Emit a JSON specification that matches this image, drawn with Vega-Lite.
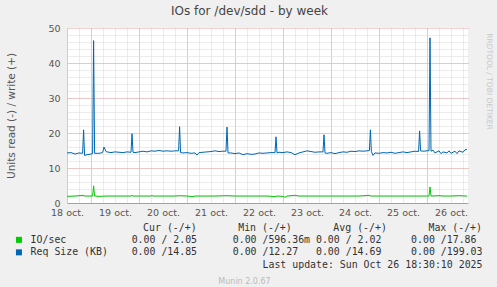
{
  "$schema": "https://vega.github.io/schema/vega-lite/v6.json",
  "width": 401,
  "height": 175,
  "autosize": {"type": "none"},
  "padding": {"left": 67, "top": 28, "right": 29, "bottom": 84},
  "background": "#f0f0f0",
  "config": {"view": {"fill": "white", "stroke": null}, "font": "DejaVu Sans"},
  "title": {"text": "IOs for /dev/sdd - by week", "font": "DejaVu Sans", "fontSize": 12, "fontWeight": "normal", "color": "#444444", "anchor": "middle", "frame": "group", "dx": -18, "offset": 5},
  "data": {"values": [
    {"hour": 12, "value": 14.3, "series": "Req Size (KB)"},
    {"hour": 14, "value": 14.4, "series": "Req Size (KB)"},
    {"hour": 16, "value": 14.0, "series": "Req Size (KB)"},
    {"hour": 18, "value": 14.3, "series": "Req Size (KB)"},
    {"hour": 19.8, "value": 14.2, "series": "Req Size (KB)"},
    {"hour": 20.3, "value": 20.9, "series": "Req Size (KB)"},
    {"hour": 20.8, "value": 13.6, "series": "Req Size (KB)"},
    {"hour": 22, "value": 13.8, "series": "Req Size (KB)"},
    {"hour": 24, "value": 14.0, "series": "Req Size (KB)"},
    {"hour": 24.8, "value": 14.1, "series": "Req Size (KB)"},
    {"hour": 25.3, "value": 46.4, "series": "Req Size (KB)"},
    {"hour": 25.8, "value": 14.2, "series": "Req Size (KB)"},
    {"hour": 28, "value": 14.2, "series": "Req Size (KB)"},
    {"hour": 29.8, "value": 14.4, "series": "Req Size (KB)"},
    {"hour": 30.5, "value": 16.0, "series": "Req Size (KB)"},
    {"hour": 31.5, "value": 14.7, "series": "Req Size (KB)"},
    {"hour": 32, "value": 14.6, "series": "Req Size (KB)"},
    {"hour": 34, "value": 14.4, "series": "Req Size (KB)"},
    {"hour": 36, "value": 14.6, "series": "Req Size (KB)"},
    {"hour": 38, "value": 14.5, "series": "Req Size (KB)"},
    {"hour": 40, "value": 14.4, "series": "Req Size (KB)"},
    {"hour": 42, "value": 14.6, "series": "Req Size (KB)"},
    {"hour": 44, "value": 14.5, "series": "Req Size (KB)"},
    {"hour": 44.5, "value": 19.8, "series": "Req Size (KB)"},
    {"hour": 45, "value": 14.5, "series": "Req Size (KB)"},
    {"hour": 46, "value": 14.4, "series": "Req Size (KB)"},
    {"hour": 48, "value": 14.6, "series": "Req Size (KB)"},
    {"hour": 50, "value": 14.8, "series": "Req Size (KB)"},
    {"hour": 52, "value": 14.6, "series": "Req Size (KB)"},
    {"hour": 54, "value": 14.9, "series": "Req Size (KB)"},
    {"hour": 56, "value": 14.8, "series": "Req Size (KB)"},
    {"hour": 58, "value": 15.0, "series": "Req Size (KB)"},
    {"hour": 60, "value": 14.8, "series": "Req Size (KB)"},
    {"hour": 62, "value": 14.9, "series": "Req Size (KB)"},
    {"hour": 64, "value": 14.8, "series": "Req Size (KB)"},
    {"hour": 66, "value": 14.9, "series": "Req Size (KB)"},
    {"hour": 67.8, "value": 14.9, "series": "Req Size (KB)"},
    {"hour": 68.3, "value": 21.8, "series": "Req Size (KB)"},
    {"hour": 68.8, "value": 14.4, "series": "Req Size (KB)"},
    {"hour": 70, "value": 14.3, "series": "Req Size (KB)"},
    {"hour": 72, "value": 14.4, "series": "Req Size (KB)"},
    {"hour": 74, "value": 14.2, "series": "Req Size (KB)"},
    {"hour": 76, "value": 14.3, "series": "Req Size (KB)"},
    {"hour": 77, "value": 13.7, "series": "Req Size (KB)"},
    {"hour": 78, "value": 14.4, "series": "Req Size (KB)"},
    {"hour": 80, "value": 14.5, "series": "Req Size (KB)"},
    {"hour": 82, "value": 14.6, "series": "Req Size (KB)"},
    {"hour": 84, "value": 14.7, "series": "Req Size (KB)"},
    {"hour": 86, "value": 14.9, "series": "Req Size (KB)"},
    {"hour": 88, "value": 14.7, "series": "Req Size (KB)"},
    {"hour": 90, "value": 14.8, "series": "Req Size (KB)"},
    {"hour": 91.5, "value": 14.8, "series": "Req Size (KB)"},
    {"hour": 92, "value": 21.7, "series": "Req Size (KB)"},
    {"hour": 92.5, "value": 14.3, "series": "Req Size (KB)"},
    {"hour": 94, "value": 14.3, "series": "Req Size (KB)"},
    {"hour": 96, "value": 14.1, "series": "Req Size (KB)"},
    {"hour": 98, "value": 14.3, "series": "Req Size (KB)"},
    {"hour": 100, "value": 13.8, "series": "Req Size (KB)"},
    {"hour": 102, "value": 14.1, "series": "Req Size (KB)"},
    {"hour": 104, "value": 13.9, "series": "Req Size (KB)"},
    {"hour": 106, "value": 14.0, "series": "Req Size (KB)"},
    {"hour": 108, "value": 14.3, "series": "Req Size (KB)"},
    {"hour": 110, "value": 14.2, "series": "Req Size (KB)"},
    {"hour": 112, "value": 14.3, "series": "Req Size (KB)"},
    {"hour": 114, "value": 14.4, "series": "Req Size (KB)"},
    {"hour": 116, "value": 14.4, "series": "Req Size (KB)"},
    {"hour": 116.5, "value": 18.9, "series": "Req Size (KB)"},
    {"hour": 117, "value": 14.3, "series": "Req Size (KB)"},
    {"hour": 118, "value": 14.5, "series": "Req Size (KB)"},
    {"hour": 120, "value": 14.4, "series": "Req Size (KB)"},
    {"hour": 122, "value": 14.6, "series": "Req Size (KB)"},
    {"hour": 124, "value": 14.4, "series": "Req Size (KB)"},
    {"hour": 126, "value": 13.8, "series": "Req Size (KB)"},
    {"hour": 128, "value": 14.3, "series": "Req Size (KB)"},
    {"hour": 130, "value": 14.6, "series": "Req Size (KB)"},
    {"hour": 132, "value": 14.9, "series": "Req Size (KB)"},
    {"hour": 134, "value": 14.7, "series": "Req Size (KB)"},
    {"hour": 136, "value": 14.5, "series": "Req Size (KB)"},
    {"hour": 138, "value": 14.6, "series": "Req Size (KB)"},
    {"hour": 140, "value": 14.6, "series": "Req Size (KB)"},
    {"hour": 140.5, "value": 19.5, "series": "Req Size (KB)"},
    {"hour": 141, "value": 14.3, "series": "Req Size (KB)"},
    {"hour": 142, "value": 14.2, "series": "Req Size (KB)"},
    {"hour": 144, "value": 14.4, "series": "Req Size (KB)"},
    {"hour": 146, "value": 14.1, "series": "Req Size (KB)"},
    {"hour": 148, "value": 14.4, "series": "Req Size (KB)"},
    {"hour": 150, "value": 14.6, "series": "Req Size (KB)"},
    {"hour": 152, "value": 14.5, "series": "Req Size (KB)"},
    {"hour": 154, "value": 14.8, "series": "Req Size (KB)"},
    {"hour": 156, "value": 14.7, "series": "Req Size (KB)"},
    {"hour": 158, "value": 14.9, "series": "Req Size (KB)"},
    {"hour": 160, "value": 14.8, "series": "Req Size (KB)"},
    {"hour": 162, "value": 14.9, "series": "Req Size (KB)"},
    {"hour": 163.2, "value": 15.0, "series": "Req Size (KB)"},
    {"hour": 163.7, "value": 20.9, "series": "Req Size (KB)"},
    {"hour": 164.2, "value": 14.7, "series": "Req Size (KB)"},
    {"hour": 165, "value": 13.6, "series": "Req Size (KB)"},
    {"hour": 166, "value": 14.3, "series": "Req Size (KB)"},
    {"hour": 168, "value": 14.2, "series": "Req Size (KB)"},
    {"hour": 170, "value": 14.4, "series": "Req Size (KB)"},
    {"hour": 172, "value": 14.3, "series": "Req Size (KB)"},
    {"hour": 174, "value": 14.5, "series": "Req Size (KB)"},
    {"hour": 176, "value": 14.2, "series": "Req Size (KB)"},
    {"hour": 178, "value": 14.4, "series": "Req Size (KB)"},
    {"hour": 180, "value": 14.6, "series": "Req Size (KB)"},
    {"hour": 182, "value": 14.4, "series": "Req Size (KB)"},
    {"hour": 184, "value": 14.6, "series": "Req Size (KB)"},
    {"hour": 186, "value": 14.8, "series": "Req Size (KB)"},
    {"hour": 187.8, "value": 14.7, "series": "Req Size (KB)"},
    {"hour": 188.3, "value": 20.6, "series": "Req Size (KB)"},
    {"hour": 188.8, "value": 14.9, "series": "Req Size (KB)"},
    {"hour": 190, "value": 14.8, "series": "Req Size (KB)"},
    {"hour": 192, "value": 14.9, "series": "Req Size (KB)"},
    {"hour": 193, "value": 15.0, "series": "Req Size (KB)"},
    {"hour": 193.5, "value": 47.2, "series": "Req Size (KB)"},
    {"hour": 194, "value": 14.8, "series": "Req Size (KB)"},
    {"hour": 195, "value": 15.1, "series": "Req Size (KB)"},
    {"hour": 196, "value": 14.3, "series": "Req Size (KB)"},
    {"hour": 198, "value": 14.9, "series": "Req Size (KB)"},
    {"hour": 199, "value": 14.1, "series": "Req Size (KB)"},
    {"hour": 200, "value": 14.6, "series": "Req Size (KB)"},
    {"hour": 202, "value": 14.3, "series": "Req Size (KB)"},
    {"hour": 203, "value": 14.9, "series": "Req Size (KB)"},
    {"hour": 204, "value": 14.2, "series": "Req Size (KB)"},
    {"hour": 206, "value": 14.8, "series": "Req Size (KB)"},
    {"hour": 207, "value": 14.1, "series": "Req Size (KB)"},
    {"hour": 208, "value": 14.9, "series": "Req Size (KB)"},
    {"hour": 210, "value": 14.5, "series": "Req Size (KB)"},
    {"hour": 211, "value": 15.2, "series": "Req Size (KB)"},
    {"hour": 212, "value": 15.3, "series": "Req Size (KB)"},
    {"hour": 12, "value": 1.9, "series": "IO/sec"},
    {"hour": 16, "value": 2.0, "series": "IO/sec"},
    {"hour": 20, "value": 2.2, "series": "IO/sec"},
    {"hour": 21, "value": 2.0, "series": "IO/sec"},
    {"hour": 24.8, "value": 2.0, "series": "IO/sec"},
    {"hour": 25.3, "value": 4.9, "series": "IO/sec"},
    {"hour": 25.8, "value": 2.0, "series": "IO/sec"},
    {"hour": 28, "value": 1.9, "series": "IO/sec"},
    {"hour": 32, "value": 2.0, "series": "IO/sec"},
    {"hour": 36, "value": 2.0, "series": "IO/sec"},
    {"hour": 40, "value": 2.0, "series": "IO/sec"},
    {"hour": 44, "value": 2.0, "series": "IO/sec"},
    {"hour": 44.5, "value": 2.2, "series": "IO/sec"},
    {"hour": 45, "value": 2.0, "series": "IO/sec"},
    {"hour": 50, "value": 2.0, "series": "IO/sec"},
    {"hour": 54, "value": 2.0, "series": "IO/sec"},
    {"hour": 54.5, "value": 2.2, "series": "IO/sec"},
    {"hour": 55, "value": 2.0, "series": "IO/sec"},
    {"hour": 60, "value": 2.0, "series": "IO/sec"},
    {"hour": 66, "value": 2.0, "series": "IO/sec"},
    {"hour": 68.3, "value": 2.1, "series": "IO/sec"},
    {"hour": 72, "value": 2.0, "series": "IO/sec"},
    {"hour": 75, "value": 1.8, "series": "IO/sec"},
    {"hour": 76, "value": 2.0, "series": "IO/sec"},
    {"hour": 80, "value": 2.0, "series": "IO/sec"},
    {"hour": 86, "value": 2.0, "series": "IO/sec"},
    {"hour": 92, "value": 2.1, "series": "IO/sec"},
    {"hour": 96, "value": 2.0, "series": "IO/sec"},
    {"hour": 100, "value": 2.0, "series": "IO/sec"},
    {"hour": 106, "value": 2.0, "series": "IO/sec"},
    {"hour": 112, "value": 2.0, "series": "IO/sec"},
    {"hour": 116, "value": 1.8, "series": "IO/sec"},
    {"hour": 117, "value": 2.0, "series": "IO/sec"},
    {"hour": 120, "value": 1.9, "series": "IO/sec"},
    {"hour": 121, "value": 1.6, "series": "IO/sec"},
    {"hour": 122, "value": 2.0, "series": "IO/sec"},
    {"hour": 126, "value": 2.2, "series": "IO/sec"},
    {"hour": 128, "value": 2.0, "series": "IO/sec"},
    {"hour": 134, "value": 2.0, "series": "IO/sec"},
    {"hour": 140, "value": 2.0, "series": "IO/sec"},
    {"hour": 146, "value": 2.0, "series": "IO/sec"},
    {"hour": 152, "value": 2.0, "series": "IO/sec"},
    {"hour": 158, "value": 2.0, "series": "IO/sec"},
    {"hour": 163, "value": 2.2, "series": "IO/sec"},
    {"hour": 164, "value": 2.0, "series": "IO/sec"},
    {"hour": 170, "value": 2.0, "series": "IO/sec"},
    {"hour": 176, "value": 2.0, "series": "IO/sec"},
    {"hour": 182, "value": 2.0, "series": "IO/sec"},
    {"hour": 188, "value": 2.0, "series": "IO/sec"},
    {"hour": 193, "value": 2.0, "series": "IO/sec"},
    {"hour": 193.5, "value": 4.6, "series": "IO/sec"},
    {"hour": 194, "value": 2.0, "series": "IO/sec"},
    {"hour": 198, "value": 2.1, "series": "IO/sec"},
    {"hour": 200, "value": 2.0, "series": "IO/sec"},
    {"hour": 204, "value": 2.0, "series": "IO/sec"},
    {"hour": 208, "value": 2.1, "series": "IO/sec"},
    {"hour": 212, "value": 2.0, "series": "IO/sec"}
  ]},
  "layer": [
    {
      "transform": [{"filter": "datum.series == 'IO/sec'"}],
      "mark": {"type": "line", "strokeWidth": 1, "clip": true},
      "encoding": {
        "x": {"field": "hour", "type": "quantitative", "scale": {"domain": [12, 212.5], "nice": false, "zero": false},
          "axis": {"orient": "bottom",
            "values": [12,18,24,30,36,42,48,54,60,66,72,78,84,90,96,102,108,114,120,126,132,138,144,150,156,162,168,174,180,186,192,198,204,210],
            "grid": true, "gridColor": {"condition": {"test": "datum.value == 12", "value": "rgba(0,0,0,0)"}, "value": "#d8d8d8"}, "gridDash": [1, 1], "gridWidth": 1,
            "domain": true, "domainColor": "#a0a0b4", "domainWidth": 1, "ticks": false,
            "labels": true, "labelFlush": false, "labelOverlap": false, "labelBound": false,
            "labelExpr": "(datum.value - 12) % 24 == 0 ? ['18 oct.','19 oct.','20 oct.','21 oct.','22 oct.','23 oct.','24 oct.','25 oct.','26 oct.'][(datum.value - 12) / 24] : ''",
            "labelFont": "DejaVu Sans", "labelFontSize": 9.5, "labelColor": "#555555", "labelPadding": 4,
            "title": "Last update: Sun Oct 26 18:30:10 2025", "titleFont": "DejaVu Sans Mono", "titleFontSize": 9.9, "titleFontWeight": "normal", "titleColor": "#333333",
            "titleX": 415, "titleY": 64, "titleAlign": "right", "titleBaseline": "alphabetic", "titleAngle": 0}},
        "y": {"field": "value", "type": "quantitative", "scale": {"domain": [0, 50], "nice": false, "zero": true},
          "axis": {"orient": "right", "values": [2,4,6,8,10,12,14,16,18,20,22,24,26,28,30,32,34,36,38,40,42,44,46,48],
            "grid": true, "gridColor": "#d8d8d8", "gridDash": [1, 1], "gridWidth": 1,
            "domain": false, "ticks": false, "labels": false,
            "title": "RRDTOOL / TOBI OETIKER", "titleFont": "DejaVu Sans", "titleFontSize": 7.5, "titleFontWeight": "normal", "titleColor": "#c8c8c8",
            "titleX": 20, "titleY": 53, "titleAngle": 90, "titleAlign": "center", "titleBaseline": "middle"}},
        "color": {"field": "series", "type": "nominal",
          "scale": {"domain": ["IO/sec", "Req Size (KB)"], "range": ["#00cc00", "#0066b3"]},
          "legend": {"orient": "none", "legendX": -53, "legendY": 195, "direction": "vertical",
            "title": "Cur\u00a0(-/+)\u00a0\u00a0\u00a0\u00a0\u00a0\u00a0\u00a0Min\u00a0(-/+)\u00a0\u00a0\u00a0\u00a0\u00a0\u00a0\u00a0Avg\u00a0(-/+)\u00a0\u00a0\u00a0\u00a0\u00a0\u00a0\u00a0Max\u00a0(-/+)",
            "titleAnchor": "end", "titleAlign": "right",
            "titleFont": "DejaVu Sans Mono", "titleFontSize": 9.9, "titleFontWeight": "normal", "titleColor": "#333333", "titlePadding": 2, "titleLimit": 1000,
            "labelFont": "DejaVu Sans Mono", "labelFontSize": 9.9, "labelColor": "#333333", "labelLimit": 1000, "labelOffset": 6.7,
            "rowPadding": 1.5, "symbolType": "square", "symbolSize": 36,
            "labelExpr": "datum.value == 'IO/sec' ? 'IO/sec\u00a0\u00a0\u00a0\u00a0\u00a0\u00a0\u00a0\u00a0\u00a0\u00a0\u00a00.00\u00a0/\u00a02.05\u00a0\u00a0\u00a0\u00a0\u00a0\u00a00.00\u00a0/596.36m\u00a00.00\u00a0/\u00a02.02\u00a0\u00a0\u00a0\u00a0\u00a00.00\u00a0/17.86' : 'Req\u00a0Size\u00a0(KB)\u00a0\u00a0\u00a0\u00a00.00\u00a0/14.85\u00a0\u00a0\u00a0\u00a0\u00a0\u00a00.00\u00a0/12.27\u00a0\u00a0\u00a00.00\u00a0/14.69\u00a0\u00a0\u00a0\u00a0\u00a00.00\u00a0/199.03'",
            "encode": {"symbols": {"update": {"fill": {"scale": "color", "field": "value"}, "fillOpacity": {"value": 1}, "strokeWidth": {"value": 0}}}}}}
      }
    },
    {
      "transform": [{"filter": "datum.series == 'Req Size (KB)'"}],
      "mark": {"type": "line", "strokeWidth": 1, "clip": true},
      "encoding": {
        "x": {"field": "hour", "type": "quantitative", "scale": {"domain": [12, 212.5], "nice": false, "zero": false},
          "axis": {"orient": "bottom", "values": [24,48,72,96,120,144,168,192],
            "grid": true, "gridColor": "#e8a4a4", "gridDash": [1, 1], "gridWidth": 1,
            "domain": false, "ticks": false, "labels": false,
            "title": "Munin 2.0.67", "titleFont": "DejaVu Sans", "titleFontSize": 8, "titleFontWeight": "normal", "titleColor": "#bbbbbb",
            "titleX": 177, "titleY": 78, "titleAlign": "center", "titleBaseline": "middle", "titleAngle": 0}},
        "y": {"field": "value", "type": "quantitative", "scale": {"domain": [0, 50], "nice": false, "zero": true},
          "axis": {"orient": "left", "values": [0,10,20,30,40,50],
            "grid": true, "gridColor": {"condition": {"test": "datum.value == 0", "value": "rgba(0,0,0,0)"}, "value": "#e8a4a4"}, "gridDash": [1, 1], "gridWidth": 1,
            "domain": true, "domainColor": "#c8c8e8", "domainWidth": 1, "ticks": false,
            "labels": true, "labelFont": "DejaVu Sans", "labelFontSize": 9.5, "labelColor": "#555555", "labelPadding": 7, "labelFlush": false, "labelBound": false,
            "title": "Units read (-) / write (+)", "titleFont": "DejaVu Sans", "titleFontSize": 10.5, "titleFontWeight": "normal", "titleColor": "#555555",
            "titleX": -56, "titleY": 87.5, "titleAngle": 270, "titleAlign": "center", "titleBaseline": "middle"}},
        "color": {"field": "series", "type": "nominal", "scale": {"domain": ["IO/sec", "Req Size (KB)"], "range": ["#00cc00", "#0066b3"]}}
      }
    }
  ],
  "resolve": {"axis": {"x": "independent", "y": "independent"}}
}
